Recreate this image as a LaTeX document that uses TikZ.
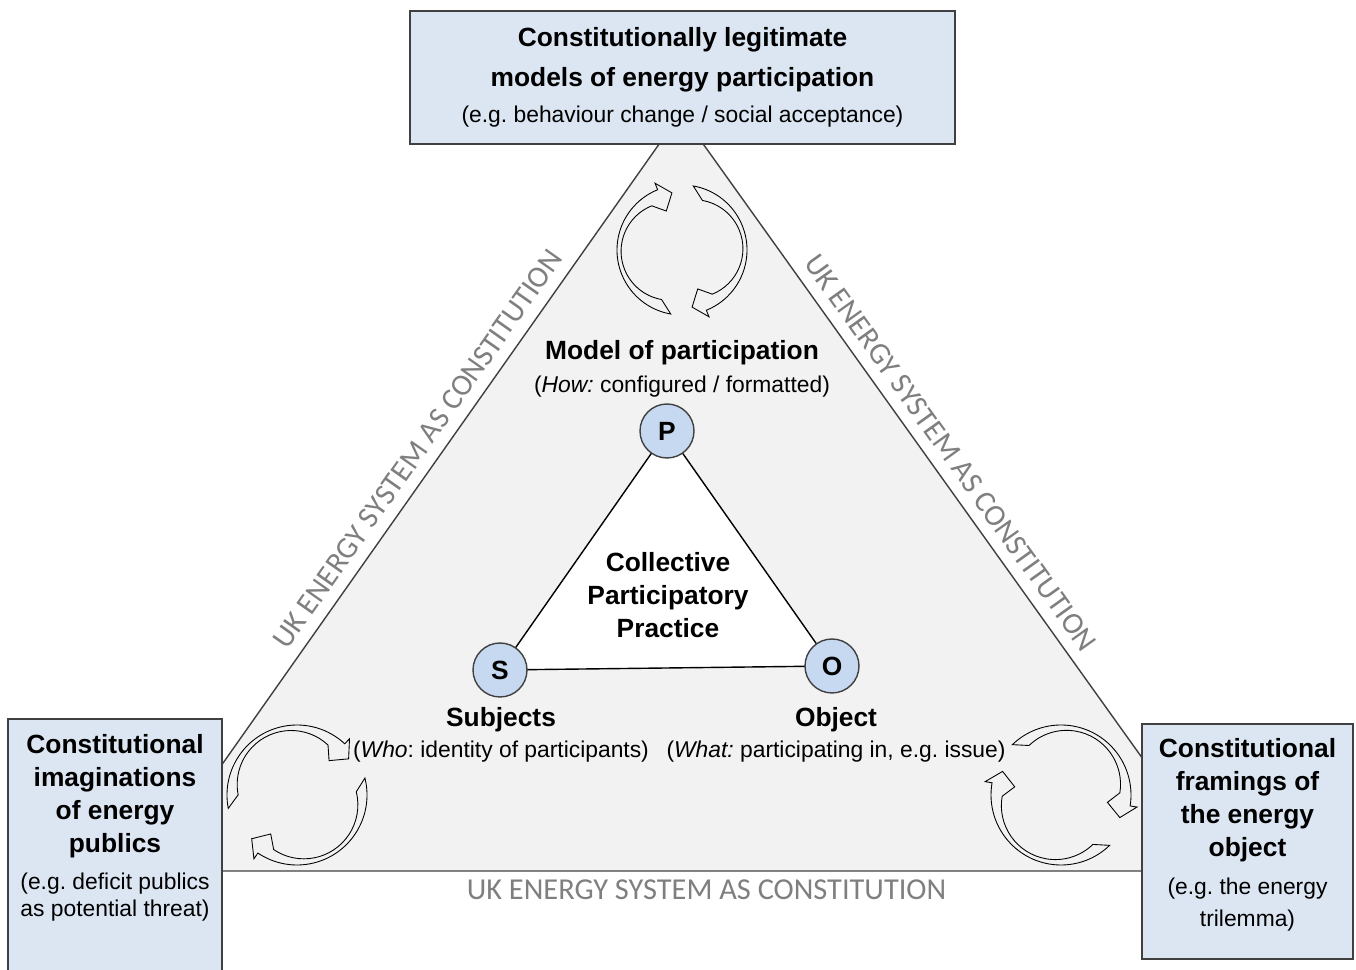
\documentclass[tikz,border=0pt]{standalone}
\usepackage{fontspec}
\setmainfont{Liberation Sans}
\newfontfamily\capfont{Carlito}
\usetikzlibrary{calc,backgrounds}
\definecolor{boxblue}{HTML}{DCE6F2}
\definecolor{nodeblue}{HTML}{C6D9F1}
\definecolor{panelgrey}{HTML}{F2F2F2}
\definecolor{capgrey}{HTML}{7F7F7F}
\definecolor{edgegrey}{HTML}{404040}
\frenchspacing
\newcommand{\headfont}{\fontsize{15}{18.8}\selectfont\bfseries}
\newcommand{\subfont}{\fontsize{13}{16}\selectfont\mdseries}
\newcommand{\cycarrow}[4]{%
	\pgfmathsetmacro{\cmid}{(#3+#4)/2}%
	\pgfmathsetmacro{\ctip}{#4-12}%
	\draw[turnarrow] ($(#1)+(#3:#2)$) arc[start angle=#3,end angle=#4,radius=#2]
		-- ($(#1)+(#4:{#2+7})$) -- ($(#1)+(\ctip:{#2-7})$) -- ($(#1)+(#4:{#2-23})$)
		-- ($(#1)+(\cmid:12)+(#4:{#2-16})$) arc[start angle=#4,end angle=#3,radius=#2-16] -- cycle;
}
\tikzset{
	box/.style={draw=edgegrey,fill=boxblue,line width=0.8pt,inner sep=0pt},
	letter/.style={circle,draw=edgegrey,fill=nodeblue,line width=0.8pt,minimum size=1.08cm,inner sep=0pt,font=\headfont},
	txt/.style={align=center,inner sep=0pt,font=\headfont},
	caption/.style={font=\capfont\fontsize{17.3}{20}\selectfont,text=capgrey,inner sep=0pt},
	turnarrow/.style={draw=black,fill=panelgrey,line width=0.5pt}
}
\begin{document}
\begin{tikzpicture}[x=0.02cm,y=0.02cm]
	\useasboundingbox (0,0) rectangle (1356,970);
	\node[letter] (P) at (667,539) {P};
	\node[letter] (S) at (500,300) {S};
	\node[letter] (O) at (832,304) {O};
	\begin{scope}[on background layer]
		\coordinate (apex) at (681,857);
		\coordinate (bl) at (147,99);
		\coordinate (br) at (1223,99);
		\draw[fill=panelgrey,draw=edgegrey,line width=0.8pt] (apex) -- (bl) -- (br) -- cycle;
		\draw[fill=white,line width=0.8pt] (P.center) -- (S.center) -- (O.center) -- cycle;
	\end{scope}
	\path (bl) -- node[caption,sloped,above=6.5pt,pos=0.54] (capl) {UK ENERGY SYSTEM AS CONSTITUTION} (apex);
	\path (apex) -- node[caption,sloped,above=6.5pt,pos=0.465] (capr) {UK ENERGY SYSTEM AS CONSTITUTION} (br);
	\path (bl) -- node[caption,below=5pt,pos=0.52] (capb) {UK ENERGY SYSTEM AS CONSTITUTION} (br);
	\node[txt] (cpp) at (668,375) {Collective\\Participatory\\Practice};
	\node[txt] (mlab) at (682,601) {Model of participation\\[0pt]\subfont(\textit{How:} configured / formatted)};
	\node[txt] (slab) at (501,235) {Subjects\\[-1pt]\subfont(\textit{Who}: identity of participants)};
	\node[txt] (olab) at (836,235) {Object\\[-1pt]\subfont(\textit{What:} participating in, e.g. issue)};
	\coordinate (topc) at (682,720);
	\coordinate (leftc) at (297,175);
	\coordinate (rightc) at (1061,175);
	\cycarrow{topc}{65}{260}{112}
	\cycarrow{topc}{65}{80}{-68}
	\cycarrow{leftc}{70}{191}{47}
	\cycarrow{leftc}{70}{14}{-124}
	\cycarrow{rightc}{70}{134}{-9}
	\cycarrow{rightc}{70}{-46}{-190}
	\node[box,align=center,font=\headfont,minimum width=10.9cm,minimum height=2.66cm] (models) at (682.5,892.5) {Constitutionally legitimate\\[4pt]models of energy participation\\[1.5pt]\subfont(e.g. behaviour change / social acceptance)};
	\node[box,minimum width=4.28cm,minimum height=5.12cm] (publics) at (115,123) {};
	\node[txt] (pubtext) at (115,142) {Constitutional\\imaginations\\of energy\\publics\\[2pt]\subfont(e.g. deficit publics\\[-3pt]\subfont as potential threat)};
	\node[box,minimum width=4.22cm,minimum height=4.7cm] (framings) at (1247.5,128.5) {};
	\node[txt] (framtext) at (1247.5,135.5) {Constitutional\\framings of\\the energy\\object\\[3pt]\subfont(e.g. the energy\\[-1pt]\subfont trilemma)};
\end{tikzpicture}
\end{document}
